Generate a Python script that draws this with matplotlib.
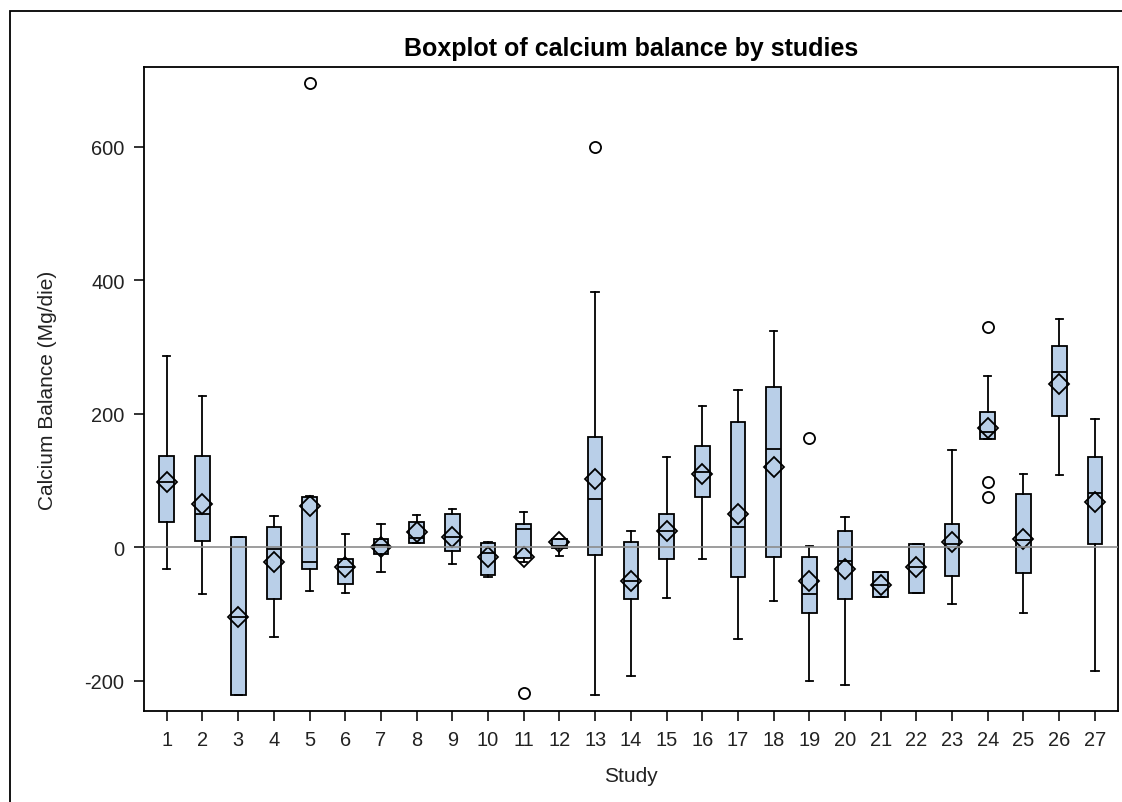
import matplotlib
matplotlib.use("Agg")
import matplotlib.pyplot as plt
from matplotlib.patches import Rectangle

plt.rcParams['font.family'] = ['Liberation Sans', 'DejaVu Sans']
plt.rcParams['axes.unicode_minus'] = False

# study numbers and the box statistics
studies = list(range(1, 28))
whis_low = [-32, -70, -222, -135, -65, -68, -37, 6, -25, -45, -22, -12.5, -222, -193,
            -76, -18, -137, -80, -200, -207, -74.5, -68, -85, 162, -99, 108, -186]
q1 = [38, 10, -222, -78, -33, -55, -10, 6, -5.5, -41.5, -16, -1.5, -12, -78,
      -18, 75, -45, -15, -99, -78, -74.5, -68, -43, 162, -38.5, 197, 5]
medians = [98, 50, -105, -2.5, -22.5, -29, 4, 13.5, 15, -8, 27.5, 2.5, 72, -50,
           24, 113, 30, 147, -70, -21, -57, -29, 5, 173, 11, 263, 81]
q3 = [137, 137, 15, 30, 75, -17.5, 12.4, 38, 50, 6, 35, 12.4, 165, 7.5,
      50, 152, 187, 240, -15, 25, -37, 5, 35, 202, 79.5, 302, 135]
whis_high = [287, 227, 15, 47, 77, 20, 35, 48, 57, 8, 52, 13, 382, 25,
             135, 212, 235, 324, 2.5, 45, -37, 5, 145, 257, 110, 342, 192]
means = [98, 65, -105, -22.5, 62, -29, 0.5, 23, 15, -14, -15, 7.5, 102, -50,
         24, 110, 50, 120, -50, -32, -57, -29, 8, 178, 12.4, 245, 68]
outliers = {5: [696], 11: [-219], 13: [599], 19: [163], 24: [330, 97.5, 75]}

stats = []
for i, s in enumerate(studies):
    stats.append({
        'label': str(s),
        'whislo': whis_low[i],
        'q1': q1[i],
        'med': medians[i],
        'q3': q3[i],
        'whishi': whis_high[i],
        'mean': means[i],
        'fliers': outliers.get(s, []),
    })

fig = plt.figure(figsize=(11.22, 8.03), dpi=100)
ax = fig.add_axes([0.1283, 0.1137, 0.8679, 0.8012])

lw = 1.3
ax.bxp(stats, positions=studies, widths=0.41, showmeans=True, patch_artist=True,
       boxprops=dict(facecolor='#b9cfe8', edgecolor='black', linewidth=lw),
       medianprops=dict(color='black', linewidth=lw),
       whiskerprops=dict(color='black', linewidth=lw),
       capprops=dict(color='black', linewidth=lw),
       meanprops=dict(marker='D', markerfacecolor='none', markeredgecolor='black',
                      markersize=10, markeredgewidth=lw),
       flierprops=dict(marker='o', markerfacecolor='none', markeredgecolor='black',
                       markersize=8, markeredgewidth=lw))

ax.axhline(0, color='#8c8c8c', linewidth=1.2, zorder=5)

ax.set_xlim(0.36, 27.64)
ax.set_ylim(-245, 719)
ax.set_yticks([-200, 0, 200, 400, 600])
ax.set_xticks(studies)
ax.set_xticklabels([str(s) for s in studies])
ax.tick_params(axis='both', direction='out', length=7, width=lw, labelsize=14.4,
               color='#222222', labelcolor='#222222', pad=7)
for sp in ax.spines.values():
    sp.set_linewidth(lw)

ax.set_title("Boxplot of calcium balance by studies", fontsize=18, fontweight='bold', pad=9)
ax.set_xlabel("Study", fontsize=15, color='#222222', labelpad=12)
ax.set_ylabel("Calcium Balance (Mg/die)", fontsize=15, color='#222222', labelpad=20)

# outer frame around the graph
fig.patches.append(Rectangle((10 / 1122, -0.1), 1.2, 1.1 - 12 / 803,
                             transform=fig.transFigure, fill=False,
                             edgecolor='black', linewidth=lw))

fig.savefig("out.png", dpi=100)
